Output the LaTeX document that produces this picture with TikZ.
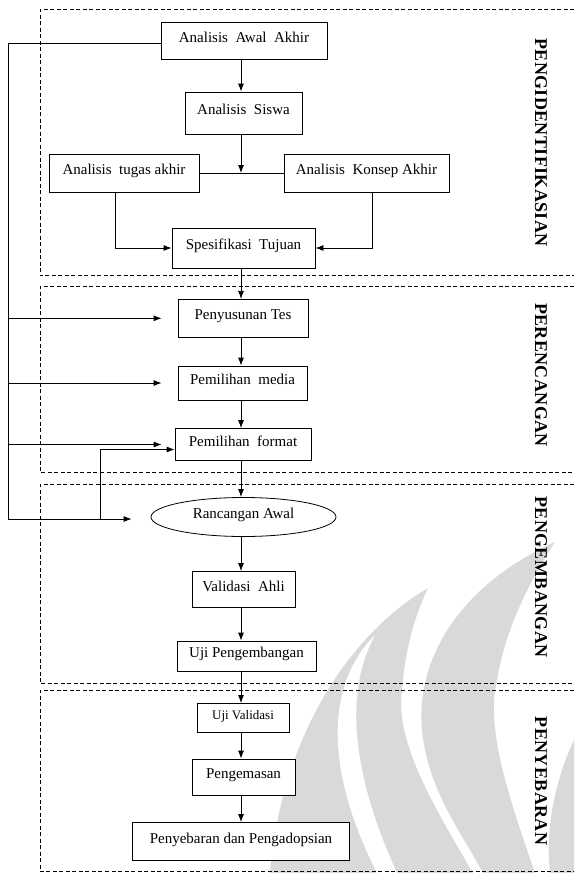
\documentclass[tikz,border=0pt]{standalone}
\usepackage{fontspec}
\setmainfont{Liberation Serif}
\newfontfamily\phasefont[LetterSpace=2]{Liberation Serif}
\usetikzlibrary{shapes,
	arrows.meta,
	positioning,
	calc}

\begin{document}
\begin{tikzpicture}[x=1pt, y=-1pt,
        every node/.style={font=\fontsize{15}{18}\selectfont},
        stage/.style={draw, fill=white, line width=0.8pt, inner sep=0pt, text height=10.5pt, text depth=7.5pt},
        flow/.style={-{Latex[length=8pt, width=6pt]}, line width=0.8pt},
        link/.style={line width=0.8pt},
        phasebox/.style={dash pattern=on 4pt off 2.5pt, line width=0.7pt},
        phase/.style={rotate=-90, inner sep=0pt, font=\phasefont\bfseries\fontsize{18}{21}\selectfont},
        wmark/.style={fill=black!15}
    ]
            \useasboundingbox (0, 0) rectangle (574, 873);
            % watermark
            \fill[wmark] (428, 588) .. controls (340, 640) and (280, 750) .. (270, 873)
                -- (473, 873) .. controls (430, 800) and (395, 740) .. (402, 690)
                .. controls (405, 650) and (415, 615) .. (428, 588) -- cycle;
            \fill[white] (375, 635) .. controls (330, 680) and (320, 760) .. (377, 873)
                -- (397, 873) .. controls (350, 770) and (345, 690) .. (375, 635) -- cycle;
            \fill[wmark] (555, 542) .. controls (470, 580) and (415, 650) .. (422, 730)
                .. controls (428, 790) and (460, 830) .. (483, 873)
                -- (535, 873) .. controls (510, 800) and (485, 730) .. (497, 680)
                .. controls (505, 630) and (530, 580) .. (555, 542) -- cycle;
            \fill[wmark] (574, 740) .. controls (555, 780) and (545, 830) .. (550, 873)
                -- (574, 873) -- cycle;
            % phases
            \draw[phasebox] (574, 9) -| (40, 275.5) -- (574, 275.5);
            \draw[phasebox] (574, 286) -| (40, 472) -- (574, 472);
            \draw[phasebox] (574, 484) -| (40, 683) -- (574, 683);
            \draw[phasebox] (574, 690) -| (40, 871) -- (574, 871);
            \node[phase] (identify) at (541, 142.5) {PENGIDENTIFIKASIAN};
            \node[phase] (design) at (541, 375) {PERENCANGAN};
            \node[phase] (develop) at (541, 577) {PENGEMBANGAN};
            \node[phase] (spread) at (541, 781) {PENYEBARAN};
            % stages
            \node[stage, minimum width=166, minimum height=37] (awal) at (244, 41.3) {Analisis\ \ Awal\ \ Akhir};
            \node[stage, minimum width=117, minimum height=42] (siswa) at (243.5, 113) {Analisis\ \ Siswa};
            \node[stage, minimum width=150, minimum height=38] (tugas) at (124, 173) {Analisis\ \ tugas akhir};
            \node[stage, minimum width=165, minimum height=38] (konsep) at (366.5, 173) {Analisis\ \ Konsep Akhir};
            \node[stage, minimum width=143, minimum height=40] (spes) at (243.5, 248) {Spesifikasi\ \ Tujuan};
            \node[stage, minimum width=130, minimum height=38] (tes) at (243, 318.3) {Penyusunan Tes};
            \node[stage, minimum width=129, minimum height=34] (media) at (242.5, 383) {Pemilihan\ \ media};
            \node[stage, minimum width=136, minimum height=32] (format) at (243, 444.5) {Pemilihan\ \ format};
            \node[stage, ellipse, minimum width=185, minimum height=39] (ranc) at (243.5, 517) {Rancangan Awal};
            \node[stage, minimum width=103, minimum height=36] (ahli) at (243.5, 589.5) {Validasi\ \ Ahli};
            \node[stage, minimum width=139, minimum height=30] (ujipeng) at (246.5, 656) {Uji Pengembangan};
            \node[stage, minimum width=92, minimum height=29, font=\fontsize{13}{16}\selectfont] (ujival) at (243, 718) {Uji Validasi};
            \node[stage, minimum width=103, minimum height=36] (kemas) at (243.5, 777) {Pengemasan};
            \node[stage, minimum width=217, minimum height=38] (sebar) at (241, 841.5) {Penyebaran dan Pengadopsian};
            \coordinate (spine) at (241, 0);
            \coordinate (join) at (241, 173);
            \coordinate (rail) at (8, 519);
            \coordinate (loop) at (100, 519);
            % main flow
            \draw[flow] (awal.south -| spine) -- (siswa.north -| spine);
            \draw[flow] (siswa.south -| spine) -- (join);
            \draw[link] (tugas.east) -- (konsep.west);
            \draw[flow] ([xshift=-9pt]tugas.south) |- (spes.west);
            \draw[flow] ([xshift=5.5pt]konsep.south) |- (spes.east);
            \draw[flow] (spes.south -| spine) -- (tes.north -| spine);
            \draw[flow] (tes.south -| spine) -- (media.north -| spine);
            \draw[flow] (media.south -| spine) -- (format.north -| spine);
            \draw[flow] (format.south -| spine) -- (ranc.north -| spine);
            \draw[flow] (ranc.south -| spine) -- (ahli.north -| spine);
            \draw[flow] (ahli.south -| spine) -- (ujipeng.north -| spine);
            \draw[flow] (ujipeng.south -| spine) -- (ujival.north -| spine);
            \draw[flow] (ujival.south -| spine) -- (kemas.north -| spine);
            \draw[flow] (kemas.south -| spine) -- (sebar.north -| spine);
            % feedback
            \draw[flow, shorten >=19pt] ([yshift=-2.4pt]awal.west) -| (rail) -- (rail -| ranc.west);
            \draw[flow, shorten >=16pt] (rail |- tes.west) -- (tes.west);
            \draw[flow, shorten >=16pt] (rail |- media.west) -- (media.west);
            \draw[flow, shorten >=13pt] (rail |- format.west) -- (format.west);
            \draw[flow] (loop) |- ([yshift=-5pt]format.west);
\end{tikzpicture}
\end{document}
